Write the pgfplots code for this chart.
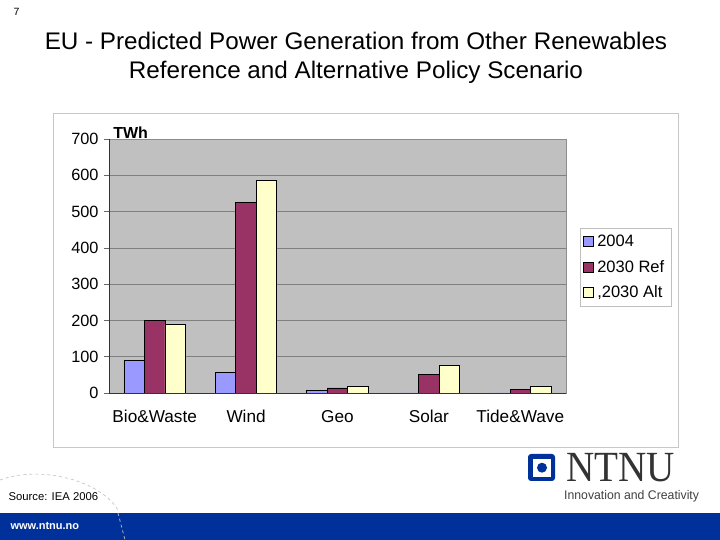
\documentclass[border=0pt]{standalone}
\usepackage{pgfplots}
\pgfplotsset{compat=1.18}
\usepackage{fontspec}
\setmainfont{Liberation Sans}
\definecolor{cA}{HTML}{9999FF}
\definecolor{cB}{HTML}{993366}
\definecolor{cC}{HTML}{FFFFCC}
\definecolor{plotbg}{HTML}{C0C0C0}
\definecolor{ntnublue}{HTML}{00309A}
\begin{document}
\begin{tikzpicture}[x=1pt,y=1pt]
\path[use as bounding box, fill=white] (0,0) rectangle (720,540);
% page number
\node[anchor=west, font=\fontsize{10.5}{12}\selectfont] at (10,528) {7};
% title
\node[align=center, font=\fontsize{24}{29}\selectfont, xscale=1.01] at (356,482.5) {EU - Predicted Power Generation from Other Renewables\\Reference and Alternative Policy Scenario};
% chart frame
\draw[draw=black!22, line width=0.8pt, fill=white] (53,93) rectangle (678,427);
\coordinate (axpos) at (109,147);
\begin{axis}[
  at={(axpos)}, anchor=south west,
  scale only axis, width=457pt, height=254pt,
  ybar=0pt, bar width=20.5pt,
  xmin=-0.5, xmax=4.5, ymin=0, ymax=700,
  xtick={0,1,2,3,4},
  xticklabels={Bio\&Waste,Wind,Geo,Solar,Tide\&Wave},
  xtick style={draw=none},
  minor xtick={-0.5,0.5,1.5,2.5,3.5,4.5},
  minor tick length=7pt,
  major tick length=5pt,
  tick align=outside,
  tick pos=left,
  ytick={0,100,...,700},
  ymajorgrids, grid style={draw=black!50, line width=0.7pt},
  axis background/.style={fill=plotbg},
  axis line style={draw=black!45, line width=0.8pt},
  tick style={black!60, line width=0.7pt},
  /pgf/number format/assume math mode=true,
  ticklabel style={font=\fontsize{16.3}{18}\selectfont},
  xticklabel style={font=\fontsize{17.2}{19}\selectfont, yshift=-9pt},
  yticklabel style={xshift=-2pt},
  legend style={at={(1.0306,0.6496)}, anchor=north west, draw=black!25, fill=white,
    font=\fontsize{16.5}{18}\selectfont, row sep=8pt, inner xsep=3pt, inner ysep=5pt,
    nodes={inner xsep=3.5pt}},
  legend cell align=left,
  legend image code/.code={\draw[#1, line width=0.6pt] (0pt,-5pt) rectangle (10pt,5pt);},
  every axis plot/.append style={draw=black, line width=0.8pt},
  clip=false,
  after end axis/.code={
    \draw[black!80, line width=0.9pt] (rel axis cs:0,1) -- (rel axis cs:0,0) -- (rel axis cs:1,0);
    \node[anchor=south west, font=\bfseries\fontsize{16}{18}\selectfont, inner sep=0pt] at (rel axis cs:0.009,1.0) {TWh};
  },
]
\addplot[fill=cA] coordinates {(0,89) (1,57) (2,7) (3,0) (4,0)};
\addplot[fill=cB] coordinates {(0,200) (1,526) (2,14) (3,50) (4,10)};
\addplot[fill=cC] coordinates {(0,190) (1,585) (2,18) (3,75) (4,18)};
\legend{2004,2030 Ref,{,2030 Alt}}
\end{axis}
% source
\node[anchor=west, font=\fontsize{11.3}{13}\selectfont] at (5,43) {Source: IEA 2006};
% footer bar
\fill[ntnublue] (0,0) rectangle (720,27);
\node[anchor=west, text=white, font=\bfseries\fontsize{11}{12}\selectfont] at (7,14) {www.ntnu.no};
% dashed arc decoration
\draw[black!25, dashed, line width=0.6pt] (0,60) .. controls (40,75) and (100,60) .. (118,30);
\draw[black!30, dashed, line width=0.8pt] (118,27) -- (125,0);
% NTNU logo
\fill[ntnublue, rounded corners=3pt] (528,59) rectangle (555,86);
\fill[white] (533,63) rectangle (551,81);
\fill[ntnublue] (542,72.3) circle (5pt);
\node[anchor=west, font=\fontsize{43}{45}\selectfont, text=black!80, inner sep=0pt, xscale=0.91] at (566,72) {\fontspec{Liberation Serif}NTNU};
\node[anchor=west, font=\fontsize{12.5}{14}\selectfont, text=black!75, inner sep=0pt, xscale=0.98] at (564,43.5) {Innovation and Creativity};
\end{tikzpicture}
\end{document}
